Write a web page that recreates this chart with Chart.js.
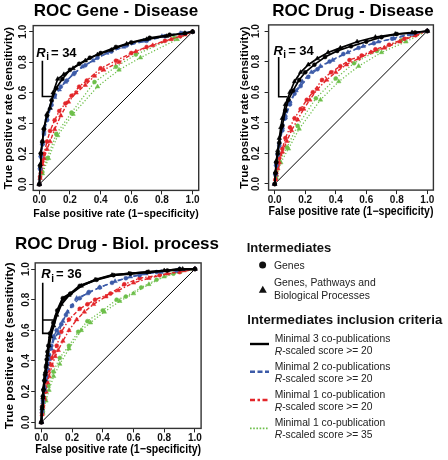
<!DOCTYPE html>
<html><head><meta charset="utf-8">
<script src="https://cdn.jsdelivr.net/npm/chart.js@4.4.1/dist/chart.umd.min.js"></script>
<style>
html,body{margin:0;padding:0;background:#fff;}
body{width:448px;height:460px;position:relative;overflow:hidden;}
canvas{position:absolute;}
#legend{position:absolute;left:224px;top:230px;}
</style></head><body>
<canvas id="c1" width="232" height="230" style="left:0;top:0"></canvas>
<canvas id="c2" width="258" height="230" style="left:224px;top:0"></canvas>
<canvas id="c3" width="234" height="230" style="left:0;top:230px"></canvas>
<svg id="legend" width="224" height="230" xmlns="http://www.w3.org/2000/svg">
 <g font-family="'Liberation Sans', Arial, sans-serif" fill="#222" dominant-baseline="central">
  <text x="22.7" y="17.3" font-size="13" font-weight="bold" fill="#111">Intermediates</text>
  <circle cx="38.6" cy="35" r="3.5" fill="#111"/>
  <text x="50" y="35" font-size="10.4">Genes</text>
  <polygon points="38.8,55.8 42.8,62.8 34.8,62.8" fill="#111"/>
  <text x="50" y="52.7" font-size="10.4">Genes, Pathways and</text>
  <text x="50" y="65" font-size="10.4">Biological Processes</text>
  <text x="23.3" y="89.3" font-size="13.2" font-weight="bold" fill="#111">Intermediates inclusion criteria</text>
  <line x1="26" x2="45" y1="114" y2="114" stroke="#000" stroke-width="2.4"/>
  <text x="50.7" y="108.3" font-size="10.3">Minimal 3 co-publications</text>
  <text x="50.7" y="120.7" font-size="10.3"><tspan font-style="italic">R</tspan>-scaled score &gt;= 20</text>
  <line x1="26" x2="45" y1="141.7" y2="141.7" stroke="#3c5ba8" stroke-width="2.4" stroke-dasharray="5 2.5"/>
  <text x="50.7" y="136" font-size="10.3">Minimal 2 co-publications</text>
  <text x="50.7" y="148.3" font-size="10.3"><tspan font-style="italic">R</tspan>-scaled score &gt;= 20</text>
  <line x1="26" x2="45" y1="170" y2="170" stroke="#e3262a" stroke-width="2.4" stroke-dasharray="5 2.5 2.5 2.5"/>
  <text x="50.7" y="164" font-size="10.3">Minimal 1 co-publication</text>
  <text x="50.7" y="176.7" font-size="10.3"><tspan font-style="italic">R</tspan>-scaled score &gt;= 20</text>
  <line x1="26" x2="45" y1="198.3" y2="198.3" stroke="#6dbf4a" stroke-width="1.8" stroke-dasharray="1.6 1.6"/>
  <text x="50.7" y="192.7" font-size="10.3">Minimal 1 co-publication</text>
  <text x="50.7" y="204" font-size="10.3"><tspan font-style="italic">R</tspan>-scaled score &gt;= 35</text>
 </g>
</svg>
<script>
// ---------- data ----------
const tickValues = [0, 0.2, 0.4, 0.6, 0.8, 1.0];
const panelTitles = ['ROC Gene - Disease', 'ROC Drug - Disease', 'ROC Drug - Biol. process'];
const xAxisTitle = 'False positive rate (1\u2212specificity)';
const yAxisTitle = 'True positive rate (sensitivity)';
const riValues = ['34', '34', '36'];
const riTextAt = [[-0.02, 0.86], [-0.008, 0.865], [0.0, 0.962]];
const riBracket1 = [[0.02, 0.81], [0.02, 0.575], [0.088, 0.575]];
const riBracket2 = [[0.026, 0.83], [0.026, 0.57], [0.083, 0.57]];
const riBracket3 = [[0.078, 0.667], [0.009, 0.667], [0.009, 0.91], [0.009, 0.58], [0.07, 0.58]];

// Panel 1: Gene - Disease
const gd_m3_genes = [[0,0],[0.005,0.12],[0.01,0.2],[0.02,0.28],[0.03,0.36],[0.05,0.45],[0.08,0.55],[0.11,0.63],[0.15,0.69],[0.2,0.75],[0.26,0.79],[0.33,0.83],[0.4,0.86],[0.5,0.9],[0.6,0.93],[0.72,0.96],[0.85,0.98],[0.95,0.99],[1,1]];
const gd_m3_all = [[0,0],[0.005,0.13],[0.01,0.21],[0.02,0.28],[0.03,0.37],[0.05,0.46],[0.07,0.5],[0.09,0.6],[0.12,0.69],[0.16,0.72],[0.22,0.76],[0.3,0.81],[0.38,0.85],[0.47,0.88],[0.57,0.92],[0.7,0.95],[0.83,0.97],[0.95,0.99],[1,1]];
const gd_m2_genes = [[0,0],[0.005,0.1],[0.01,0.18],[0.02,0.26],[0.03,0.33],[0.05,0.42],[0.08,0.52],[0.1,0.58],[0.14,0.64],[0.18,0.68],[0.23,0.73],[0.3,0.78],[0.38,0.83],[0.47,0.87],[0.57,0.91],[0.7,0.94],[0.82,0.97],[0.93,0.99],[1,1]];
const gd_m2_all = [[0,0],[0.005,0.11],[0.01,0.19],[0.02,0.27],[0.03,0.35],[0.05,0.43],[0.07,0.5],[0.1,0.57],[0.13,0.62],[0.17,0.67],[0.22,0.72],[0.28,0.77],[0.35,0.81],[0.44,0.86],[0.55,0.9],[0.68,0.94],[0.8,0.97],[0.92,0.99],[1,1]];
const gd_m1_genes = [[0,0],[0.005,0.05],[0.01,0.1],[0.02,0.15],[0.03,0.2],[0.05,0.28],[0.07,0.35],[0.1,0.42],[0.13,0.48],[0.17,0.53],[0.21,0.58],[0.26,0.64],[0.31,0.68],[0.4,0.76],[0.5,0.81],[0.6,0.86],[0.7,0.9],[0.82,0.94],[0.92,0.97],[1,1]];
const gd_m1_all = [[0,0],[0.005,0.04],[0.01,0.08],[0.02,0.13],[0.03,0.17],[0.05,0.23],[0.07,0.28],[0.1,0.36],[0.14,0.45],[0.19,0.54],[0.24,0.6],[0.3,0.65],[0.36,0.71],[0.42,0.75],[0.52,0.8],[0.63,0.87],[0.74,0.91],[0.86,0.95],[0.95,0.98],[1,1]];
const gd_m1s_genes = [[0,0],[0.02,0.08],[0.05,0.17],[0.11,0.33],[0.21,0.47],[0.36,0.67],[0.5,0.77],[0.63,0.85],[0.88,0.96],[1,1]];
const gd_m1s_all = [[0,0],[0.02,0.07],[0.06,0.17],[0.12,0.32],[0.22,0.46],[0.38,0.64],[0.52,0.75],[0.66,0.83],[0.9,0.95],[1,1]];

// Panel 2: Drug - Disease
const dd_m3_genes = [[0,0],[0.005,0.07],[0.01,0.14],[0.02,0.2],[0.03,0.27],[0.05,0.38],[0.07,0.48],[0.09,0.55],[0.12,0.61],[0.16,0.68],[0.2,0.73],[0.26,0.78],[0.33,0.83],[0.41,0.87],[0.5,0.9],[0.6,0.93],[0.7,0.96],[0.8,0.98],[0.92,0.99],[1,1]];
const dd_m3_all = [[0,0],[0.005,0.08],[0.01,0.15],[0.02,0.22],[0.03,0.3],[0.04,0.37],[0.05,0.43],[0.07,0.52],[0.1,0.6],[0.13,0.67],[0.17,0.73],[0.22,0.78],[0.28,0.82],[0.35,0.86],[0.43,0.89],[0.54,0.93],[0.66,0.96],[0.79,0.98],[0.9,0.99],[1,1]];
const dd_m2_genes = [[0,0],[0.005,0.06],[0.01,0.12],[0.02,0.19],[0.03,0.25],[0.05,0.35],[0.07,0.43],[0.1,0.52],[0.13,0.59],[0.17,0.64],[0.22,0.7],[0.28,0.75],[0.36,0.8],[0.45,0.85],[0.55,0.89],[0.65,0.92],[0.77,0.95],[0.88,0.98],[1,1]];
const dd_m2_all = [[0,0],[0.005,0.07],[0.01,0.13],[0.02,0.2],[0.03,0.27],[0.05,0.37],[0.07,0.45],[0.1,0.54],[0.14,0.61],[0.18,0.67],[0.24,0.73],[0.3,0.77],[0.38,0.81],[0.48,0.86],[0.58,0.9],[0.68,0.93],[0.78,0.95],[0.9,0.98],[1,1]];
const dd_m1_genes = [[0,0],[0.005,0.03],[0.01,0.07],[0.02,0.12],[0.03,0.17],[0.05,0.23],[0.07,0.3],[0.1,0.37],[0.13,0.43],[0.17,0.49],[0.21,0.55],[0.25,0.6],[0.31,0.68],[0.37,0.73],[0.43,0.77],[0.49,0.81],[0.57,0.84],[0.66,0.88],[0.75,0.91],[0.85,0.95],[0.93,0.98],[1,1]];
const dd_m1_all = [[0,0],[0.005,0.03],[0.01,0.06],[0.02,0.1],[0.03,0.14],[0.05,0.21],[0.08,0.28],[0.11,0.35],[0.15,0.42],[0.19,0.49],[0.23,0.55],[0.28,0.62],[0.34,0.68],[0.4,0.73],[0.47,0.78],[0.55,0.82],[0.63,0.86],[0.72,0.89],[0.82,0.93],[0.92,0.97],[1,1]];
const dd_m1s_genes = [[0,0],[0.01,0.05],[0.03,0.15],[0.08,0.24],[0.15,0.38],[0.27,0.56],[0.4,0.69],[0.52,0.79],[0.67,0.87],[0.83,0.94],[1,1]];
const dd_m1s_all = [[0,0],[0.01,0.04],[0.04,0.14],[0.09,0.23],[0.16,0.36],[0.3,0.55],[0.42,0.67],[0.55,0.77],[0.7,0.86],[0.86,0.93],[1,1]];

// Panel 3: Drug - Biological process
const dp_m3_genes = [[0,0],[0.005,0.1],[0.01,0.17],[0.013,0.21],[0.02,0.27],[0.024,0.31],[0.03,0.36],[0.035,0.41],[0.04,0.46],[0.046,0.5],[0.056,0.58],[0.078,0.65],[0.104,0.73],[0.14,0.81],[0.19,0.84],[0.25,0.89],[0.36,0.93],[0.47,0.96],[0.58,0.97],[0.69,0.98],[0.82,0.99],[0.9,1],[1,1]];
const dp_m3_all = [[0,0],[0.005,0.09],[0.01,0.16],[0.015,0.22],[0.02,0.28],[0.027,0.33],[0.033,0.38],[0.04,0.44],[0.05,0.5],[0.06,0.56],[0.08,0.63],[0.1,0.7],[0.13,0.77],[0.18,0.83],[0.26,0.89],[0.35,0.93],[0.46,0.96],[0.57,0.97],[0.7,0.98],[0.8,0.99],[0.92,1],[1,1]];
const dp_m2_genes = [[0,0],[0.005,0.08],[0.01,0.14],[0.02,0.22],[0.03,0.3],[0.04,0.38],[0.05,0.44],[0.065,0.5],[0.08,0.56],[0.1,0.6],[0.13,0.64],[0.16,0.7],[0.2,0.76],[0.25,0.81],[0.31,0.85],[0.38,0.88],[0.46,0.91],[0.55,0.94],[0.64,0.96],[0.75,0.98],[0.88,0.99],[1,1]];
const dp_m2_all = [[0,0],[0.005,0.07],[0.01,0.13],[0.02,0.21],[0.03,0.28],[0.04,0.35],[0.05,0.41],[0.065,0.48],[0.085,0.55],[0.11,0.58],[0.14,0.66],[0.17,0.72],[0.23,0.81],[0.3,0.84],[0.38,0.88],[0.48,0.92],[0.58,0.95],[0.68,0.97],[0.78,0.98],[0.9,1],[1,1]];
const dp_m1_genes = [[0,0],[0.005,0.06],[0.01,0.11],[0.017,0.16],[0.024,0.23],[0.035,0.29],[0.046,0.34],[0.055,0.38],[0.067,0.42],[0.083,0.46],[0.1,0.5],[0.13,0.59],[0.18,0.67],[0.25,0.74],[0.3,0.77],[0.35,0.8],[0.45,0.84],[0.54,0.9],[0.64,0.94],[0.77,0.96],[0.9,0.98],[1,1]];
const dp_m1_all = [[0,0],[0.005,0.05],[0.01,0.1],[0.02,0.15],[0.03,0.2],[0.04,0.26],[0.05,0.3],[0.07,0.37],[0.09,0.43],[0.11,0.47],[0.14,0.53],[0.18,0.6],[0.23,0.67],[0.28,0.72],[0.34,0.77],[0.42,0.82],[0.5,0.86],[0.6,0.91],[0.7,0.94],[0.82,0.97],[0.93,0.99],[1,1]];
const dp_m1s_genes = [[0,0],[0.01,0.07],[0.025,0.15],[0.046,0.24],[0.078,0.33],[0.12,0.42],[0.18,0.5],[0.24,0.59],[0.3,0.66],[0.4,0.73],[0.49,0.8],[0.55,0.82],[0.65,0.88],[0.75,0.93],[0.86,0.97],[1,1]];
const dp_m1s_all = [[0,0],[0.01,0.06],[0.03,0.14],[0.05,0.21],[0.08,0.3],[0.12,0.38],[0.18,0.48],[0.26,0.6],[0.32,0.65],[0.41,0.72],[0.51,0.79],[0.6,0.84],[0.7,0.9],[0.8,0.95],[0.9,0.98],[1,1]];

const diagonal = [[0,0],[1,1]];

// ---------- styling / layout ----------
const FONT = "'Liberation Sans', Arial, Helvetica, sans-serif";
const critStyles = [
  {color:'#000000', dash:[], width:1.7},
  {color:'#3c5ba8', dash:[5,3], width:1.4},
  {color:'#e3262a', dash:[4,2,1.5,2], width:1.4},
  {color:'#6dbf4a', dash:[1.2,2], width:1.3}
];
const panels = [
  {id:'c1', series:[[gd_m3_genes,gd_m3_all],[gd_m2_genes,gd_m2_all],[gd_m1_genes,gd_m1_all],[gd_m1s_genes,gd_m1s_all]], bracket:riBracket1, blackW:1.7,
   L:{yW:33.2, rW:33.3, xH:39.6, tPt:0.8, tPb:4.4, yTitlePt:2.1, yTickPad:-1.2, xTickPad:-0.4, xTitlePb:9.6, xTitleSize:11.8, yTitleSize:11.5}},
  {id:'c2', series:[[dd_m3_genes,dd_m3_all],[dd_m2_genes,dd_m2_all],[dd_m1_genes,dd_m1_all],[dd_m1s_genes,dd_m1s_all]], bracket:riBracket2, blackW:1.7,
   L:{yW:44.6, rW:48.6, xH:39.9, tPt:0.8, tPb:3.7, yTitlePt:13.8, yTickPad:1.6, xTickPad:-0.1, xTitlePb:11.2, xTitleSize:12, yTitleSize:11.5}},
  {id:'c3', series:[[dp_m3_genes,dp_m3_all],[dp_m2_genes,dp_m2_all],[dp_m1_genes,dp_m1_all],[dp_m1s_genes,dp_m1s_all]], bracket:riBracket3, blackW:2.3,
   L:{yW:35.2, rW:32.9, xH:31.6, tPt:3.8, tPb:8.7, yTitlePt:2.9, yTickPad:-2.5, xTickPad:-0.1, xTitlePb:2.9, xTitleSize:12.2, yTitleSize:11.8}}
];

const toXY = arr => arr.map(p => ({x:p[0], y:p[1]}));

const boxPlugin = {
  id:'box',
  beforeDatasetsDraw(chart){
    const a = chart.chartArea, ctx = chart.ctx;
    ctx.save();
    ctx.strokeStyle = '#333';
    ctx.lineWidth = 1.4;
    ctx.strokeRect(a.left, a.top, a.right - a.left, a.bottom - a.top);
    ctx.restore();
  }
};

function riPlugin(idx){
  return {
    id:'ri'+idx,
    afterDatasetsDraw(chart){
      const ctx = chart.ctx, sx = chart.scales.x, sy = chart.scales.y;
      const px = sx.getPixelForValue(riTextAt[idx][0]);
      const py = sy.getPixelForValue(riTextAt[idx][1]);
      ctx.save();
      ctx.fillStyle = '#000';
      ctx.textBaseline = 'middle';
      ctx.textAlign = 'left';
      ctx.font = 'italic bold 13px ' + FONT;
      ctx.fillText('R', px, py);
      let x = px + ctx.measureText('R').width + 0.5;
      ctx.font = 'bold 10px ' + FONT;
      ctx.fillText('i', x, py + 4);
      x += ctx.measureText('i').width + 2;
      ctx.font = 'bold 13px ' + FONT;
      ctx.fillText('= ' + riValues[idx], x, py);
      ctx.restore();
    }
  };
}

function buildDatasets(p){
  const ds = [];
  p.series.forEach((pair, k) => {
    const st = critStyles[k];
    pair.forEach((arr, j) => {
      ds.push({
        data: toXY(arr), showLine:true, fill:false,
        borderColor: st.color, backgroundColor: st.color,
        borderWidth: k === 0 ? p.blackW : st.width, borderDash: st.dash,
        pointStyle: j === 0 ? 'circle' : 'triangle',
        pointRadius: j === 0 ? 2 : 2.6, pointBorderWidth: 0.5,
        pointBorderColor: st.color, pointBackgroundColor: st.color,
        tension: 0
      });
    });
  });
  ds.push({data: toXY(p.bracket), showLine:true, borderColor:'#000', borderWidth:1.6, pointRadius:0, fill:false});
  ds.push({data: toXY(diagonal), showLine:true, borderColor:'#000', borderWidth:1, pointRadius:0, fill:false});
  return ds;
}

panels.forEach((p, idx) => {
  const L = p.L;
  const tickFont = {family:FONT, size:10, weight:'bold'};
  new Chart(document.getElementById(p.id), {
    type:'scatter',
    data:{datasets: buildDatasets(p)},
    options:{
      responsive:false, animation:false, events:[],
      layout:{padding:0},
      plugins:{
        legend:{display:false}, tooltip:{enabled:false},
        title:{display:true, text:panelTitles[idx], color:'#000', font:{family:FONT, size:17, weight:'bold'}, padding:{top:L.tPt, bottom:L.tPb}}
      },
      scales:{
        x:{type:'linear', position:'bottom', min:-0.04, max:1.04,
           afterBuildTicks: s => { s.ticks = tickValues.map(v => ({value:v})); },
           afterFit: s => { s.height = L.xH; s.paddingLeft = 0; s.paddingRight = 0; s.paddingTop = 0; s.paddingBottom = 0; },
           grid:{drawOnChartArea:false, drawTicks:true, tickLength:4, color:'#222', lineWidth:1},
           border:{display:false},
           ticks:{color:'#111', font:tickFont, padding:L.xTickPad, autoSkip:false, minRotation:0, maxRotation:0, callback: v => Number(v).toFixed(1)},
           title:{display:true, text:xAxisTitle, color:'#000', font:{family:FONT, size:L.xTitleSize, weight:'bold'}, padding:{top:0, bottom:L.xTitlePb}}
        },
        y:{type:'linear', position:'left', min:-0.04, max:1.04,
           afterBuildTicks: s => { s.ticks = tickValues.map(v => ({value:v})); },
           afterFit: s => { s.width = L.yW; s.paddingLeft = 0; s.paddingRight = 0; s.paddingTop = 0; s.paddingBottom = 0; },
           grid:{drawOnChartArea:false, drawTicks:true, tickLength:4, color:'#222', lineWidth:1},
           border:{display:false},
           ticks:{color:'#111', font:tickFont, padding:L.yTickPad, autoSkip:false, minRotation:90, maxRotation:90, crossAlign:'center', callback: v => Number(v).toFixed(1)},
           title:{display:true, text:yAxisTitle, color:'#000', font:{family:FONT, size:L.yTitleSize, weight:'bold'}, padding:{top:L.yTitlePt, bottom:0}}
        },
        yr:{type:'linear', position:'right', min:0, max:1, display:true,
           afterFit: s => { s.width = L.rW; s.paddingTop = 0; s.paddingBottom = 0; },
           grid:{display:false}, border:{display:false}, ticks:{display:false}, title:{display:false}
        }
      }
    },
    plugins:[boxPlugin, riPlugin(idx)]
  });
});
</script>
</body></html>
